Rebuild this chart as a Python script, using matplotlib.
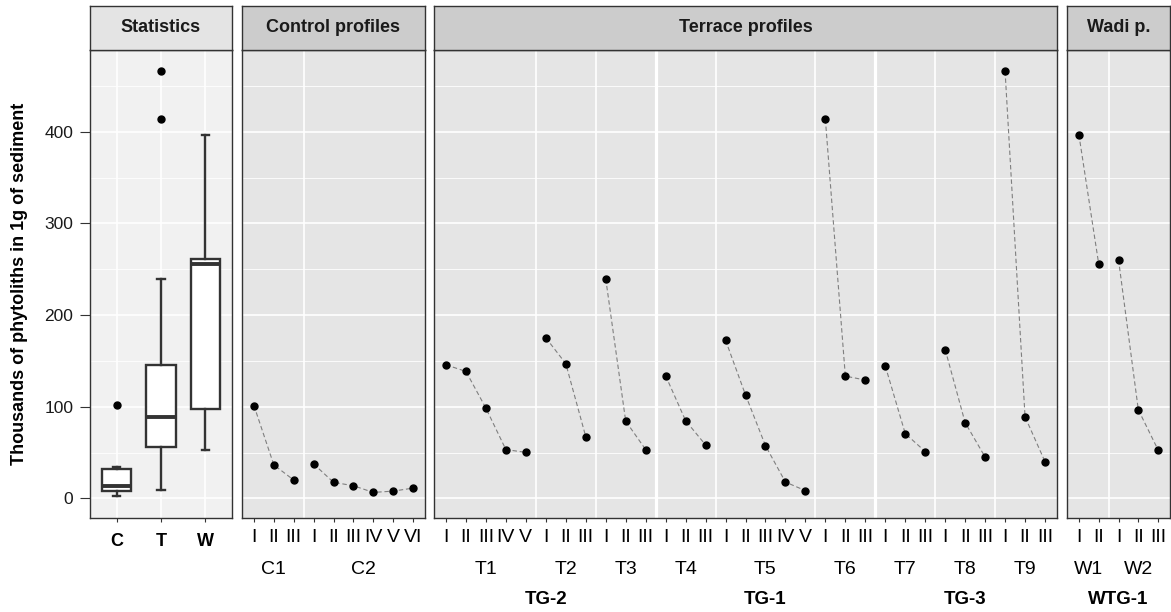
import matplotlib
matplotlib.use('Agg')
import matplotlib.pyplot as plt
import matplotlib.transforms as mtransforms

plt.rcParams['font.family'] = ['Liberation Sans', 'DejaVu Sans']

# ---------------- data ----------------
stat_groups = ['C', 'T', 'W']
stat_whislo = [2.2, 9.1, 53.0]
stat_q1 = [8.0, 56.0, 97.8]
stat_med = [13.5, 89.1, 256.0]
stat_q3 = [32.2, 145.2, 261.0]
stat_whishi = [34.0, 239.7, 397.0]
stat_outliers = [[101.8], [413.6, 466.1], []]

layer_labels = ['I', 'II', 'III', 'IV', 'V', 'VI']

c1 = [101.4, 36.6, 20.1]
c2 = [37.7, 17.6, 13.9, 6.6, 8.0, 11.3]
t1 = [145.8, 138.6, 98.5, 53.3, 50.3]
t2 = [175.3, 147.1, 67.4]
t3 = [239.7, 84.4, 53.3]
t4 = [133.9, 84.9, 58.4]
t5 = [172.7, 113.0, 57.6, 17.9, 8.5]
t6 = [413.6, 133.5, 129.2]
t7 = [144.6, 70.8, 51.2]
t8 = [162.5, 82.7, 45.2]
t9 = [466.1, 89.1, 40.1]
w1 = [397.0, 255.9]
w2 = [260.6, 96.8, 52.9]

control_names = ['C1', 'C2']
control_values = [c1, c2]
control_groups = []
control_group_sizes = []

terrace_names = ['T1', 'T2', 'T3', 'T4', 'T5', 'T6', 'T7', 'T8', 'T9']
terrace_values = [t1, t2, t3, t4, t5, t6, t7, t8, t9]
terrace_groups = ['TG-2', 'TG-1', 'TG-3']
terrace_group_sizes = [3, 3, 3]

wadi_names = ['W1', 'W2']
wadi_values = [w1, w2]
wadi_groups = ['WTG-1']
wadi_group_sizes = [2]

strip_titles = ['Statistics', 'Control profiles', 'Terrace profiles', 'Wadi p.']
y_label = 'Thousands of phytoliths in 1g of sediment'
y_major = [0, 100, 200, 300, 400]
y_minor = [50, 150, 250, 350, 450]

# ---------------- layout ----------------
W, H = 1171, 612
fig = plt.figure(figsize=(W / 100, H / 100), dpi=100)

PANEL_TOP, PANEL_BOT = 50, 517.7
STRIP_TOP = 5.5
panel_x = [(90, 232), (242, 425), (434, 1057), (1067, 1170)]

all_vals = [v for prof in control_values + terrace_values + wadi_values for v in prof]
all_vals += stat_whislo + stat_whishi + [o for g in stat_outliers for o in g]
ymin, ymax = min(all_vals), max(all_vals)
rng = ymax - ymin
YLIM = (ymin - 0.05 * rng, ymax + 0.05 * rng)

BORDER = '#333333'
GRID_MAJ_LW = 1.2
GRID_MIN_LW = 0.6


def px_axes(x0, x1, ytop, ybot):
    return fig.add_axes([x0 / W, 1 - ybot / H, (x1 - x0) / W, (ybot - ytop) / H])


def make_panel(i, bg, strip_bg):
    x0, x1 = panel_x[i]
    ax = px_axes(x0, x1, PANEL_TOP, PANEL_BOT)
    ax.set_facecolor(bg)
    for s in ax.spines.values():
        s.set_color(BORDER)
        s.set_linewidth(1.0)
    ax.set_ylim(*YLIM)
    ax.set_yticks(y_major)
    ax.set_yticks(y_minor, minor=True)
    ax.grid(axis='y', which='major', color='white', lw=GRID_MAJ_LW)
    ax.grid(axis='y', which='minor', color='white', lw=GRID_MIN_LW)
    ax.set_axisbelow(True)
    ax.tick_params(axis='y', which='both', left=False, labelleft=False)
    ax.tick_params(axis='x', which='major', length=3, width=0.8, color=BORDER,
                   labelsize=14, pad=5, labelcolor='black')
    # strip
    sa = px_axes(x0, x1, STRIP_TOP, PANEL_TOP)
    sa.set_facecolor(strip_bg)
    sa.set_xticks([])
    sa.set_yticks([])
    for s in sa.spines.values():
        s.set_color(BORDER)
        s.set_linewidth(1.0)
    sa.text(0.5, 0.5, strip_titles[i], ha='center', va='center', fontsize=13,
            fontweight='bold', color='#1a1a1a', transform=sa.transAxes)
    return ax


# ---------------- statistics panel ----------------
ax0 = make_panel(0, '#F1F1F1', '#E4E4E4')
stats = []
for k, g in enumerate(stat_groups):
    stats.append(dict(label=g, whislo=stat_whislo[k], q1=stat_q1[k], med=stat_med[k],
                      q3=stat_q3[k], whishi=stat_whishi[k], fliers=stat_outliers[k]))
ax0.bxp(stats, positions=[1, 2, 3], widths=0.67, capwidths=0.16, patch_artist=True,
        showfliers=True,
        boxprops=dict(facecolor='white', edgecolor=BORDER, lw=1.7),
        medianprops=dict(color=BORDER, lw=2.8, solid_capstyle='butt'),
        whiskerprops=dict(color=BORDER, lw=1.7),
        capprops=dict(color=BORDER, lw=1.7),
        flierprops=dict(marker='o', markerfacecolor='black', markeredgecolor='black',
                        markersize=5.0, linestyle='none'))
ax0.set_xlim(0.4, 3.6)
ax0.set_xticks([1, 2, 3])
ax0.set_xticklabels(stat_groups, fontweight='bold', fontsize=13)
ax0.tick_params(axis='x', pad=8)
ax0.grid(axis='x', which='major', color='white', lw=GRID_MAJ_LW)
ax0.tick_params(axis='y', which='major', left=True, labelleft=True, length=7,
                width=0.8, color=BORDER, labelsize=12.5, pad=5, labelcolor='#1a1a1a')
ax0.set_ylim(*YLIM)

fig.text(20 / W, 1 - (PANEL_TOP + PANEL_BOT) / 2 / H, y_label, rotation=90,
         ha='center', va='center', fontsize=13, fontweight='bold', color='black')


# ---------------- profile panels ----------------
def draw_profiles(i, names, values, groups, group_sizes):
    ax = make_panel(i, '#E5E5E5', '#CCCCCC')
    x = 1
    ticks, labels, centers, bounds = [], [], [], []
    for name, vals in zip(names, values):
        xs = list(range(x, x + len(vals)))
        ax.plot(xs, vals, ls=(0, (4, 2.5)), color='#7F7F7F', lw=0.8, zorder=2)
        ax.plot(xs, vals, ls='none', marker='o', color='black', markersize=5.0, zorder=3)
        ticks += xs
        labels += layer_labels[:len(vals)]
        centers.append((xs[0] + xs[-1]) / 2)
        bounds.append((xs[0], xs[-1]))
        x += len(vals)
    n = x - 1
    # separators
    group_ends = []
    acc = 0
    for gs in group_sizes:
        acc += gs
        group_ends.append(acc)
    for j in range(len(names) - 1):
        thick = (j + 1) in group_ends
        ax.axvline(bounds[j][1] + 0.5, color='white', lw=2.3 if thick else 1.2, zorder=1)
    ax.set_xlim(0.4, n + 0.6)
    ax.set_xticks(ticks)
    ax.set_xticklabels(labels)
    blend = mtransforms.blended_transform_factory(ax.transData, fig.transFigure)
    for name, c in zip(names, centers):
        ax.text(c, 1 - 569 / H, name, transform=blend, ha='center', va='center',
                fontsize=14, color='black')
    start = 0
    for gname, gs in zip(groups, group_sizes):
        gc = (bounds[start][0] + bounds[start + gs - 1][1]) / 2
        ax.text(gc, 1 - 599 / H, gname, transform=blend, ha='center', va='center',
                fontsize=13.5, fontweight='bold', color='black')
        start += gs
    return ax


draw_profiles(1, control_names, control_values, control_groups, control_group_sizes)
draw_profiles(2, terrace_names, terrace_values, terrace_groups, terrace_group_sizes)
draw_profiles(3, wadi_names, wadi_values, wadi_groups, wadi_group_sizes)

fig.savefig('out.png', dpi=100, facecolor='white')
